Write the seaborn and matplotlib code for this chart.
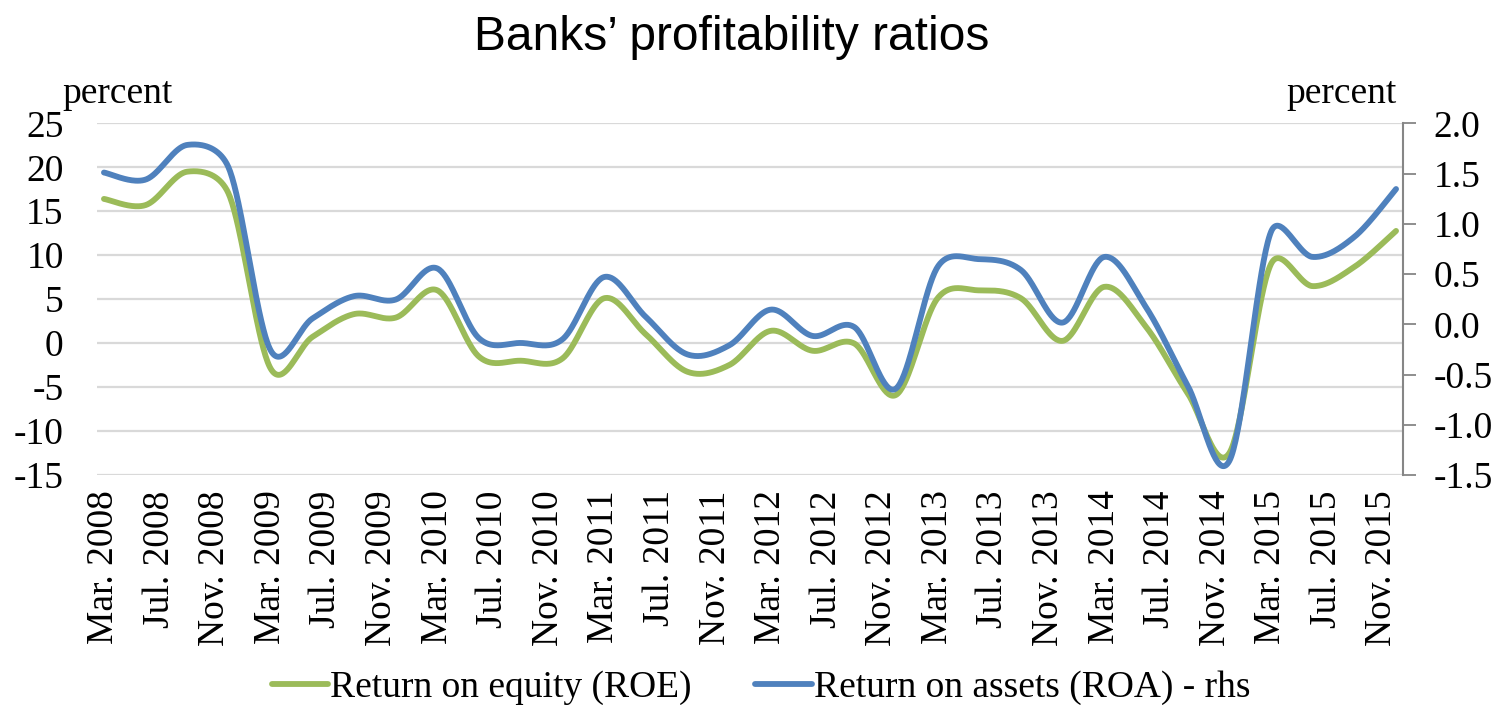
import numpy as np
import pandas as pd
import matplotlib
matplotlib.use("Agg")
import matplotlib.pyplot as plt
from matplotlib.lines import Line2D
import seaborn as sns

# ---------------- data (quarterly) ----------------
quarters = pd.period_range("2008-03", "2015-12", freq="3M").strftime("%b %Y").tolist()
roe = [16.4, 15.7, 19.5, 16.9, -2.9, 0.7, 3.3, 2.9, 6.0, -1.55, -2.0, -1.75,
       5.1, 1.0, -3.26, -2.5, 1.4, -0.87, -0.04, -5.9, 5.1, 6.0, 5.1, 0.26,
       6.4, 1.86, -5.7, -12.5, 9.0, 6.48, 8.67, 12.76]
roa = [1.51, 1.44, 1.785, 1.55, -0.26, 0.057, 0.28, 0.246, 0.555, -0.14, -0.186, -0.15,
       0.47, 0.073, -0.30, -0.21, 0.146, -0.116, -0.027, -0.64, 0.57, 0.648, 0.54, 0.017,
       0.67, 0.17, -0.61, -1.36, 0.92, 0.67, 0.87, 1.346]
months = pd.period_range("2008-03", "2015-12", freq="M")
tick_labels = [m.strftime("%b. %Y") for m in months[::4]]

GREEN = "#9BBB59"
BLUE = "#4F81BD"


def excel_smooth(y, sx, sy, n=40):
    """Excel-style smoothed line (Bezier with clamped control points), computed in
    screen-pixel space; x of quarterly points is in months."""
    y = np.asarray(y, float)
    x = np.arange(len(y)) * 3.0
    P = np.column_stack([x * sx, y * sy])
    N = len(P)
    before = P.copy()
    after = P.copy()
    for i in range(N):
        p0 = P[max(i - 1, 0)]
        p1 = P[i]
        p2 = P[min(i + 1, N - 1)]
        d02 = np.linalg.norm(p2 - p0)
        if d02 == 0:
            continue
        v = (p2 - p0) / d02
        d01 = np.linalg.norm(p1 - p0)
        d12 = np.linalg.norm(p2 - p1)
        if i > 0:
            before[i] = p1 - v * min(d02 / 6, d01 / 2)
        if i < N - 1:
            after[i] = p1 + v * min(d02 / 6, d12 / 2)
    t = np.linspace(0, 1, n, endpoint=False)[:, None]
    segs = []
    for i in range(N - 1):
        b = ((1 - t) ** 3 * P[i] + 3 * (1 - t) ** 2 * t * after[i]
             + 3 * (1 - t) * t ** 2 * before[i + 1] + t ** 3 * P[i + 1])
        segs.append(b)
    segs.append(P[-1:])
    pts = np.vstack(segs)
    return pts[:, 0] / sx, pts[:, 1] / sy


sns.set_theme(style="white")
plt.rcParams["font.family"] = ["Liberation Serif", "DejaVu Serif"]
plt.rcParams["text.color"] = "black"

W, H = 1498, 705
fig = plt.figure(figsize=(W / 100, H / 100), dpi=100)
L, R, T, B = 97, 1403, 123.3, 475
ax = fig.add_axes([L / W, 1 - B / H, (R - L) / W, (B - T) / H])
ax2 = ax.twinx()

n_months = len(months)
px_month = (R - L) / n_months
x1, y1 = excel_smooth(roe, px_month, (B - T) / 40.0)
x2, y2 = excel_smooth(roa, px_month, (B - T) / 3.5)
df1 = pd.DataFrame({"x": x1, "y": y1})
df2 = pd.DataFrame({"x": x2, "y": y2})
sns.lineplot(data=df1, x="x", y="y", ax=ax, color=GREEN, lw=4.2, sort=False,
             estimator=None, solid_capstyle="round")
sns.lineplot(data=df2, x="x", y="y", ax=ax2, color=BLUE, lw=4.2, sort=False,
             estimator=None, solid_capstyle="round")

FS = 27
ax.set_xlim(-0.5, n_months - 0.5)
ax.set_ylim(-15, 25)
ax.set_yticks(range(-15, 30, 5))
ax.set_yticklabels([str(v) for v in range(-15, 30, 5)], fontsize=FS)
ax.set_xticks(range(0, n_months, 4))
ax.set_xticklabels(tick_labels, rotation=90, fontsize=FS)
ax.tick_params(axis="y", length=0, pad=24, labelcolor="black")
ax.tick_params(axis="x", length=0, pad=11, labelcolor="black")
ax.yaxis.grid(True, color="#D9D9D9", lw=1.6)
ax.xaxis.grid(False)
ax.set_axisbelow(True)
ax.set_xlabel("")
ax.set_ylabel("")
for s in ax.spines.values():
    s.set_visible(False)

ax2.set_ylim(-1.5, 2.0)
r_ticks = np.arange(-1.5, 2.01, 0.5)
ax2.set_yticks(r_ticks)
ax2.set_yticklabels([f"{v:.1f}" for v in r_ticks], fontsize=FS)
ax2.tick_params(axis="y", length=9, width=1.3, color="#868686", pad=13,
                direction="out", labelcolor="black")
ax2.grid(False)
ax2.set_ylabel("")
for k, s in ax2.spines.items():
    s.set_visible(k == "right")
ax2.spines["right"].set_color("#868686")
ax2.spines["right"].set_linewidth(1.5)

fig.text(732 / W, 1 - 50 / H, "Banks’ profitability ratios", fontsize=34.5,
         family=["Liberation Sans", "DejaVu Sans"], ha="center", va="baseline",
         color="black")
fig.text(62 / W, 1 - 103 / H, "percent", fontsize=FS, ha="left", va="baseline")
fig.text(1397 / W, 1 - 103 / H, "percent", fontsize=FS, ha="right", va="baseline")

handles = [Line2D([], [], color=GREEN, lw=4.2), Line2D([], [], color=BLUE, lw=4.2)]
fig.legend(handles, ["Return on equity (ROE)", "Return on assets (ROA) - rhs"],
           loc="center", bbox_to_anchor=(761 / W, 1 - 688 / H), ncol=2, frameon=False,
           handlelength=1.5, handletextpad=0.05, columnspacing=1.7, fontsize=FS,
           borderpad=0, labelcolor="black")

fig.savefig("out.png", dpi=100)
